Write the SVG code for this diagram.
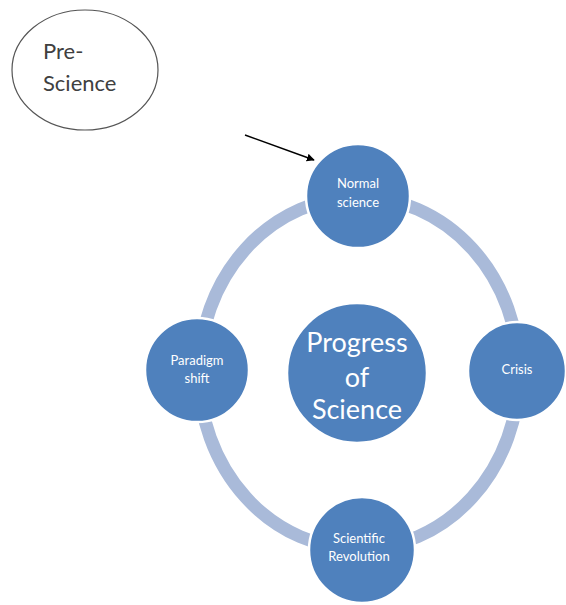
<svg xmlns="http://www.w3.org/2000/svg" width="566" height="605" viewBox="0 0 566 605">
<defs>
<style>
.node{fill:#4f81bd;stroke:#ffffff;stroke-width:2.5}
.t{font-family:Lato,"Open Sans","Liberation Sans",sans-serif;fill:#ffffff;text-anchor:middle}
.s{font-size:13px}
.big{font-size:27px}
.pre{font-family:Lato,"Open Sans","Liberation Sans",sans-serif;font-size:22px;fill:#404040}
</style>
<marker id="ah" viewBox="0 0 10 10" refX="9" refY="5" markerWidth="8" markerHeight="8" orient="auto" markerUnits="userSpaceOnUse">
<path d="M0,0 L10,5 L0,10 z" fill="#000"/>
</marker>
</defs>
<rect width="566" height="605" fill="#ffffff"/>
<g id="connectors">
<ellipse cx="359" cy="373" rx="160" ry="176" fill="none" stroke="#a9bad9" stroke-width="13"/>
<line x1="245" y1="135" x2="314" y2="160" stroke="#000" stroke-width="1.5" marker-end="url(#ah)"/>
</g>
<g id="pre-science">
<ellipse cx="85" cy="70" rx="73" ry="60" fill="#fff" stroke="#555" stroke-width="1.2"/>
<text class="pre" x="43" y="59">Pre-</text>
<text class="pre" x="43" y="91">Science</text>
</g>
<g id="progress">
<circle class="node" cx="357" cy="373" r="70"/>
<text class="t big" x="357" y="352">Progress</text>
<text class="t big" x="357" y="387">of</text>
<text class="t big" x="357" y="419">Science</text>
</g>
<g id="normal-science">
<circle class="node" cx="358" cy="196" r="52"/>
<text class="t s" x="358" y="188">Normal</text>
<text class="t s" x="358" y="207">science</text>
</g>
<g id="crisis">
<circle class="node" cx="517" cy="371" r="49"/>
<text class="t s" x="517" y="374">Crisis</text>
</g>
<g id="paradigm-shift">
<circle class="node" cx="197" cy="370" r="52"/>
<text class="t s" x="197" y="365">Paradigm</text>
<text class="t s" x="197" y="383">shift</text>
</g>
<g id="scientific-revolution">
<circle class="node" cx="362" cy="550" r="53"/>
<text class="t s" x="359" y="543">Scientific</text>
<text class="t s" x="359" y="561">Revolution</text>
</g>
</svg>
